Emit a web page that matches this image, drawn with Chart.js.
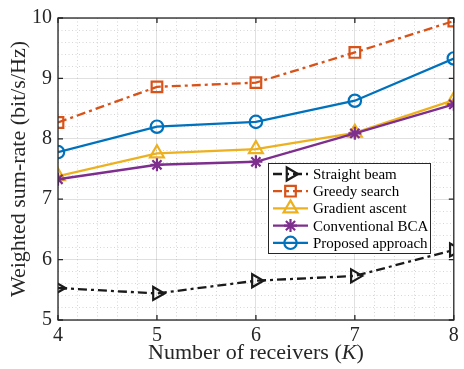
<!DOCTYPE html>
<html><head><meta charset="utf-8">
<script src="https://cdn.jsdelivr.net/npm/chart.js@4.4.1/dist/chart.umd.min.js"></script>
<style>html,body{margin:0;padding:0;background:#fff}#wrap{width:464px;height:369px}</style>
</head><body><div id="wrap"><canvas id="c" width="464" height="369"></canvas></div>
<script>
// ---- data ----
const receivers = [4, 5, 6, 7, 8];
const straightBeam = [5.53, 5.44, 5.65, 5.73, 6.16];
const greedySearch = [8.27, 8.86, 8.93, 9.43, 9.95];
const gradientAscent = [7.38, 7.76, 7.83, 8.10, 8.64];
const conventionalBCA = [7.33, 7.57, 7.62, 8.09, 8.57];
const proposedApproach = [7.78, 8.20, 8.28, 8.63, 9.33];
const seriesNames = ['Straight beam', 'Greedy search', 'Gradient ascent', 'Conventional BCA', 'Proposed approach'];
const xTickLabels = ['4', '5', '6', '7', '8'];
const yTickLabels = ['5', '6', '7', '8', '9', '10'];
const xTitleParts = ['Number of receivers (', 'K', ')'];
const yTitle = 'Weighted sum-rate (bit/s/Hz)';

const SERIF = '"Liberation Serif", "DejaVu Serif", serif';
const AXIS = '#262626';
const styles = [
  {color: '#1a1a1a', dash: [9, 4, 3, 4], point: 'triangle', rot: 90, r: 7.5},
  {color: '#D95319', dash: [9, 4, 3, 4], point: 'rect', rot: 0, r: 7.5},
  {color: '#EDB120', dash: [], point: 'triangle', rot: 0, r: 8},
  {color: '#7E2F8E', dash: [], point: 'star', rot: 0, r: 6.5},
  {color: '#0072BD', dash: [], point: 'circle', rot: 0, r: 6.2}
];
const allSeries = [straightBeam, greedySearch, gradientAscent, conventionalBCA, proposedApproach];

const datasets = allSeries.map((vals, i) => ({
  label: seriesNames[i],
  data: receivers.map((k, j) => ({x: k, y: vals[j]})),
  borderColor: styles[i].color,
  backgroundColor: 'rgba(255,255,255,0)',
  borderWidth: 2.3,
  borderDash: styles[i].dash,
  pointStyle: styles[i].point,
  pointRotation: styles[i].rot,
  pointRadius: styles[i].r,
  pointBorderWidth: 2.2,
  pointBorderColor: styles[i].color,
  pointBackgroundColor: 'rgba(255,255,255,0)',
  tension: 0,
  fill: false,
  order: 5 - i
}));

const isMajor = v => Math.abs(v - Math.round(v)) < 1e-6;

const extras = {
  id: 'extras',
  afterDraw(chart) {
    const ctx = chart.ctx;
    const a = chart.chartArea;
    const xs = chart.scales.x, ys = chart.scales.y;
    ctx.save();
    // box
    ctx.strokeStyle = AXIS;
    ctx.lineWidth = 1.3;
    ctx.setLineDash([]);
    ctx.strokeRect(a.left, a.top, a.right - a.left, a.bottom - a.top);
    // inward ticks
    const tl = 5;
    ctx.beginPath();
    receivers.forEach(v => {
      const px = xs.getPixelForValue(v);
      ctx.moveTo(px, a.bottom); ctx.lineTo(px, a.bottom - tl);
      ctx.moveTo(px, a.top); ctx.lineTo(px, a.top + tl);
    });
    yTickLabels.forEach(t => {
      const py = ys.getPixelForValue(Number(t));
      ctx.moveTo(a.left, py); ctx.lineTo(a.left + tl, py);
      ctx.moveTo(a.right, py); ctx.lineTo(a.right - tl, py);
    });
    ctx.stroke();

    // x title with italic K
    ctx.fillStyle = AXIS;
    ctx.textBaseline = 'alphabetic';
    const fs = 22;
    const fonts = [`${fs}px ${SERIF}`, `italic ${fs}px ${SERIF}`, `${fs}px ${SERIF}`];
    let total = 0;
    const widths = xTitleParts.map((p, i) => { ctx.font = fonts[i]; const w = ctx.measureText(p).width; total += w; return w; });
    let x = (a.left + a.right) / 2 - total / 2;
    xTitleParts.forEach((p, i) => { ctx.font = fonts[i]; ctx.textAlign = 'left'; ctx.fillText(p, x, 359); x += widths[i]; });

    // legend
    const L = 268, T = 163, W = 162, H = 90;
    ctx.fillStyle = '#ffffff';
    ctx.fillRect(L, T, W, H);
    ctx.strokeStyle = AXIS;
    ctx.lineWidth = 1;
    ctx.strokeRect(L + 0.5, T + 0.5, W, H);
    chart.data.datasets.forEach((ds, i) => {
      const cy = T + 11 + i * 17.2;
      ctx.save();
      ctx.strokeStyle = ds.borderColor;
      ctx.lineWidth = ds.borderWidth;
      ctx.setLineDash(ds.borderDash);
      ctx.beginPath();
      ctx.moveTo(L + 5, cy); ctx.lineTo(L + 40, cy);
      ctx.stroke();
      ctx.setLineDash([]);
      ctx.fillStyle = 'rgba(255,255,255,0)';
      ctx.strokeStyle = ds.pointBorderColor;
      ctx.lineWidth = ds.pointBorderWidth;
      Chart.helpers.drawPoint(ctx, {pointStyle: ds.pointStyle, rotation: ds.pointRotation, radius: ds.pointRadius, borderWidth: ds.pointBorderWidth}, L + 22.5, cy);
      ctx.restore();
      ctx.fillStyle = '#000';
      ctx.font = `15px ${SERIF}`;
      ctx.textAlign = 'left';
      ctx.textBaseline = 'middle';
      ctx.fillText(ds.label, L + 45, cy + 1);
    });
    ctx.restore();
  }
};

new Chart(document.getElementById('c'), {
  type: 'line',
  data: {datasets},
  options: {
    responsive: false,
    animation: false,
    events: [],
    layout: {padding: {top: 16, right: 6, left: 0, bottom: 0}},
    plugins: {legend: {display: false}, tooltip: {enabled: false}},
    scales: {
      x: {
        type: 'linear', min: 4, max: 8,
        afterFit(s) { s.height = 49; },
        ticks: {
          stepSize: 0.2, autoSkip: false, maxRotation: 0, padding: 4,
          color: AXIS, font: {family: SERIF, size: 20},
          callback: v => isMajor(v) ? xTickLabels[receivers.indexOf(Math.round(v))] : ''
        },
        grid: {
          drawTicks: false, lineWidth: 1,
          color: c => (c.tick && isMajor(c.tick.value)) ? 'rgba(0,0,0,0.12)' : 'rgba(0,0,0,0.16)'
        },
        border: {display: false, dash: c => (c.tick && isMajor(c.tick.value)) ? [] : [1, 2.5]},
        title: {display: false}
      },
      y: {
        type: 'linear', min: 5, max: 10,
        afterFit(s) { s.width = 58; },
        ticks: {
          stepSize: 0.2, autoSkip: false, padding: 6,
          color: AXIS, font: {family: SERIF, size: 20},
          callback: v => isMajor(v) ? yTickLabels[Math.round(v) - 5] : ''
        },
        grid: {
          drawTicks: false, lineWidth: 1,
          color: c => (c.tick && isMajor(c.tick.value)) ? 'rgba(0,0,0,0.12)' : 'rgba(0,0,0,0.16)'
        },
        border: {display: false, dash: c => (c.tick && isMajor(c.tick.value)) ? [] : [1, 2.5]},
        title: {display: true, text: yTitle, color: AXIS, font: {family: SERIF, size: 22}, padding: {top: 6, bottom: 0}}
      }
    }
  },
  plugins: [extras]
});
</script>
</body></html>
